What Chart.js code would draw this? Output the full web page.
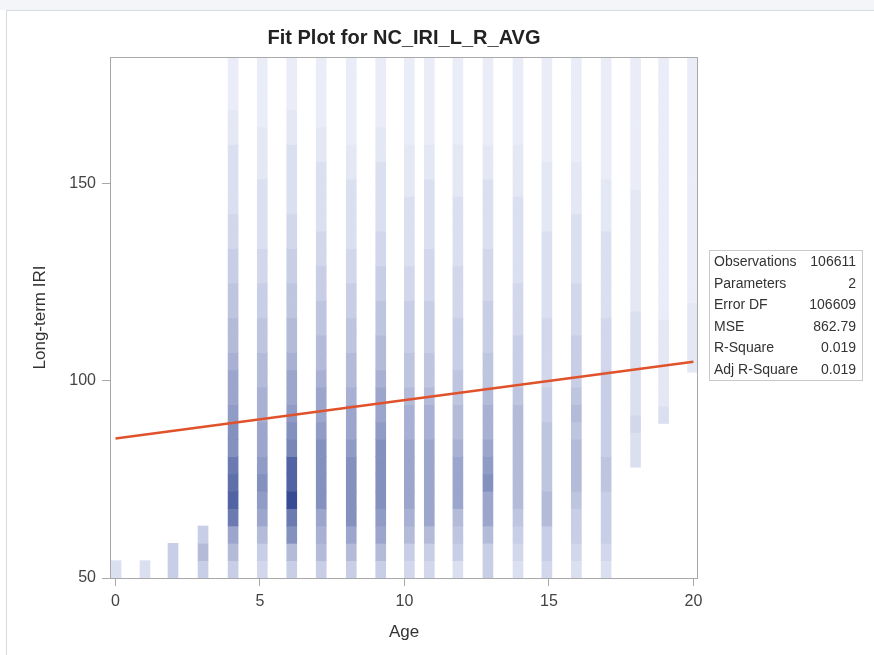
<!DOCTYPE html>
<html>
<head>
<title>Fit Plot for NC_IRI_L_R_AVG</title>
<script src="https://cdn.jsdelivr.net/npm/chart.js@4.4.0/dist/chart.umd.min.js"></script>
<style>
    body { margin: 0; width: 874px; height: 655px; overflow: hidden; background: #fff; font-family: "Liberation Sans", Arial, sans-serif; }
    .topstrip { position: absolute; left: 0; top: 0; width: 874px; height: 10px; background: #f3f5f9; }
    .pageframe { position: absolute; left: 6px; top: 10px; width: 868px; height: 645px; border-left: 1px solid #d8dce2; border-top: 1px solid #d8dce2; }
    #chartbox { position: absolute; left: 0; top: 0; }
    .stats { position: absolute; left: 709px; top: 250px; width: 154px; border: 1px solid #c9c9c9; font-size: 14px; color: #333; border-collapse: collapse; }
    .stats td { height: 21.5px; padding: 0; line-height: 21.5px; white-space: nowrap; }
    .stats td.lbl { padding-left: 4px; }
    .stats td.val { text-align: right; padding-right: 6px; }
</style>
</head>
<body>
<div class="topstrip"></div>
<div class="pageframe"></div>
<canvas id="chartbox" width="874" height="655"></canvas>
<table class="stats" id="stats"></table>
<script>
    // ---- data ----
    const ages = [0, 1, 2, 3, 4, 5, 6, 7, 8, 9, 10, 11, 12, 13, 14, 15, 16, 17, 18, 19, 20];
    // x position of every heat-map column (the x bins do not sit exactly on the ages)
    const colX = [0.02, 1.02, 1.99, 3.03, 4.07, 5.08, 6.10, 7.12, 8.16, 9.18, 10.17, 10.86, 11.85, 12.89, 13.93, 14.93, 15.95, 16.98, 18.0, 18.97, 19.97];
    // lowest IRI value of every column
    const colBase = [50, 50, 50, 50, 50, 50, 50, 50, 50, 50, 50, 50, 50, 50, 50, 50, 50, 50, 78.1, 89.2, 102.2];
    const binHeight = 4.4;
    // shade level (1 light .. 9 dark) of each cell, from the bottom of the column upwards
    const density = [
        [2],
        [2],
        [3, 3],
        [3, 4, 3],
        [3, 4, 5, 7, 8, 7.5, 7, 6, 6, 5.5, 5, 5, 4.5, 4, 4, 3.5, 3.5, 3, 3, 2.5, 2.5, 2, 2, 2, 2, 1.5, 1.5, 1, 1, 1],
        [2.5, 3, 4, 5, 5.5, 6, 5.5, 5, 5, 4.5, 4.5, 4, 4, 3.5, 3.5, 3, 3, 2.5, 2.5, 2, 2, 2, 2, 1.5, 1.5, 1.5, 1, 1, 1, 1],
        [3, 4, 6, 7, 9, 8, 8, 6.5, 6, 5.5, 5, 5, 4.5, 4, 4, 3.5, 3.5, 3, 3, 2.5, 2.5, 2, 2, 2, 2, 1.5, 1.5, 1, 1, 1],
        [3, 4, 4.5, 5, 6, 6, 6, 6, 5.5, 5, 5, 4.5, 4, 4, 3.5, 3.5, 3, 3, 2.5, 2.5, 2, 2, 2, 2, 1.5, 1.5, 1, 1, 1, 1],
        [3, 4, 5, 6, 6, 6, 6, 5.5, 5, 5, 4.5, 4, 4, 3.5, 3.5, 3, 3, 2.5, 2.5, 2, 2, 2, 2, 1.5, 1.5, 1, 1, 1, 1, 1],
        [3, 4, 5, 5.5, 6, 6, 6, 6, 5.5, 5, 5, 4.5, 4, 4, 3.5, 3.5, 3, 3, 2.5, 2.5, 2, 2, 2, 2, 1.5, 1.5, 1, 1, 1, 1],
        [2.5, 3, 4, 4.5, 5, 5, 5, 5, 4.5, 4.5, 4, 3.5, 3.5, 3, 3, 3, 2.5, 2.5, 2, 2, 2, 2, 1.5, 1.5, 1.5, 1, 1, 1, 1, 1],
        [2.5, 3, 4, 5, 5, 5, 5, 5, 4.5, 4.5, 4, 3.5, 3.5, 3, 3, 3, 2.5, 2.5, 2.5, 2, 2, 2, 2, 1.5, 1.5, 1, 1, 1, 1, 1],
        [2, 3, 3.5, 4, 5, 5, 5, 4.5, 4, 4, 3.5, 3.5, 3, 3, 3, 2.5, 2.5, 2.5, 2, 2, 2, 2, 1.5, 1.5, 1.5, 1, 1, 1, 1, 1],
        [3, 3, 4, 5, 5, 6, 5.5, 5, 4.5, 4.5, 4, 3.5, 3.5, 3, 3, 3, 2.5, 2.5, 2.5, 2, 2, 2, 2, 1.5, 1.5, 1, 1, 1, 1, 1],
        [2, 2.5, 3, 3.5, 4, 4, 4, 4, 4, 4, 3.5, 3, 3, 3, 2.5, 2.5, 2.5, 2, 2, 2, 2, 2, 1.5, 1.5, 1.5, 1, 1, 1, 1, 1],
        [2.5, 3, 3, 4, 4, 3.5, 3.5, 3.5, 3.5, 3, 3, 2.5, 2.5, 2.5, 2.5, 2, 2, 2, 2, 2, 1.5, 1.5, 1.5, 1.5, 1, 1, 1, 1, 1, 1],
        [2, 2.5, 3, 3, 3.5, 4, 4, 4, 3.5, 4, 3.5, 3, 3, 3, 2.5, 2.5, 2.5, 2, 2, 2, 2, 1.5, 1.5, 1.5, 1, 1, 1, 1, 1, 1],
        [2, 2.5, 3, 3, 3, 3.5, 3.5, 3, 3, 3, 3, 3, 2.5, 2.5, 2.5, 2, 2, 2, 2, 2, 1.5, 1.5, 1.5, 1, 1, 1, 1, 1, 1, 1],
        [2, 2, 2.5, 2, 2, 2, 2, 2, 2, 1.5, 1.5, 1.5, 1.5, 1.5, 1.5, 1.5, 1, 1, 1, 1, 1, 1, 1, 1],
        [2, 1.5, 1.5, 1.5, 1.5, 1.5, 1, 1, 1, 1, 1, 1, 1, 1, 1, 1, 1, 1, 1, 1, 1, 1],
        [1.5, 1.5, 1.5, 1.5, 1, 1, 1, 1, 1, 1, 1, 1, 1, 1, 1, 1, 1, 1, 1]
    ];
    const fitAge = [0, 20];
    const fitIRI = [85.4, 104.9];
    const xTicks = [0, 5, 10, 15, 20];
    const yTicks = [50, 100, 150];
    const statLabels = ['Observations', 'Parameters', 'Error DF', 'MSE', 'R-Square', 'Adj R-Square'];
    const statValues = ['106611', '2', '106609', '862.79', '0.019', '0.019'];

    // stats table
    var tbl = document.getElementById('stats');
    statLabels.forEach(function (lab, i) {
        var tr = document.createElement('tr');
        tr.innerHTML = '<td class="lbl">' + lab + '</td><td class="val">' + statValues[i] + '</td>';
        tbl.appendChild(tr);
    });

    // light -> dark blue ramp (a bit of gamma so the pale end stays pale)
    function shade(level) {
        var t = Math.pow((level - 1) / 8, 1.2);
        var lo = [234, 237, 248], hi = [55, 75, 148];
        var c = lo.map(function (v, j) { return Math.round(v + (hi[j] - v) * t); });
        return 'rgb(' + c.join(',') + ')';
    }

    var cells = [], cellColors = [];
    density.forEach(function (col, i) {
        col.forEach(function (lvl, k) {
            var lo = colBase[i] + k * binHeight;
            cells.push({x: colX[i], y: [lo, lo + binHeight]});
            cellColors.push(shade(lvl));
        });
    });

    Chart.defaults.font.family = '"Liberation Sans", Arial, sans-serif';

    var framePlugin = {
        id: 'frame',
        afterDraw: function (chart) {
            var a = chart.chartArea, c = chart.ctx;
            c.save();
            c.strokeStyle = '#a8a8a8';
            c.lineWidth = 1;
            c.strokeRect(Math.round(a.left) + 0.5, Math.round(a.top) + 0.5, Math.round(a.right - a.left) - 1, Math.round(a.bottom - a.top));
            c.restore();
        }
    };

    var ctx = document.getElementById('chartbox').getContext('2d');
    var fitChart = new Chart(ctx, {
        type: 'bar',
        data: {
            datasets: [
                {type: 'line', label: 'Fit', data: fitAge.map(function (a, i) { return {x: a, y: fitIRI[i]}; }),
                 borderColor: '#e0522b', borderWidth: 2.5, pointRadius: 0, fill: false, order: 0},
                {type: 'bar', label: 'Density', data: cells, backgroundColor: cellColors, borderWidth: 0,
                 barThickness: 10, clip: 0, order: 1}
            ]
        },
        options: {
            responsive: false,
            animation: false,
            layout: {padding: {left: 0, right: 176, top: 0, bottom: 0}},
            plugins: {
                legend: {display: false},
                tooltip: {enabled: false},
                title: {display: true, text: 'Fit Plot for NC_IRI_L_R_AVG', color: '#222', fullSize: false,
                        font: {size: 20, weight: 'bold'}, padding: {top: 26, bottom: 7}}
            },
            scales: {
                x: {
                    type: 'linear', min: -0.19, max: 20.16, offset: false,
                    afterBuildTicks: function (s) { s.ticks = xTicks.map(function (v) { return {value: v}; }); },
                    afterFit: function (s) { s.height = 77; },
                    grid: {drawOnChartArea: false, offset: false, tickLength: 8, color: '#a8a8a8'},
                    border: {display: false},
                    ticks: {color: '#444', font: {size: 16}, padding: 6, maxRotation: 0},
                    title: {display: true, text: 'Age', color: '#333', font: {size: 17}, padding: {top: 0, bottom: 12}}
                },
                y: {
                    type: 'linear', min: 50, max: 182.2,
                    afterBuildTicks: function (s) { s.ticks = yTicks.map(function (v) { return {value: v}; }); },
                    afterFit: function (s) { s.width = 110; },
                    grid: {drawOnChartArea: false, tickLength: 8, color: '#a8a8a8'},
                    border: {display: false},
                    ticks: {color: '#444', font: {size: 16}, padding: 6},
                    title: {display: true, text: 'Long-term IRI', color: '#333', font: {size: 17}, padding: {top: 30, bottom: 0}}
                }
            }
        },
        plugins: [framePlugin]
    });
</script>
</body>
</html>
